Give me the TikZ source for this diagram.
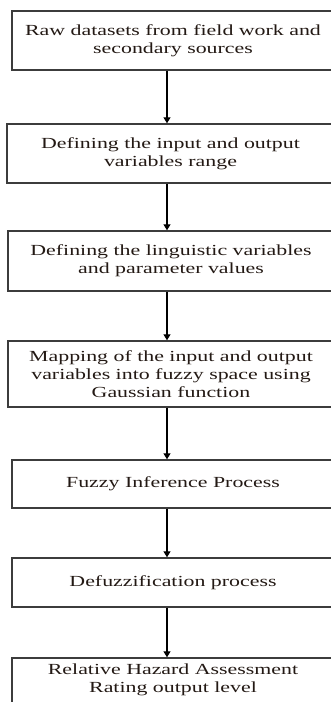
\documentclass[tikz,border=0pt]{standalone}
\usepackage{fontspec}
\setmainfont[FakeStretch=1.42]{Liberation Serif}
\usepackage{tikz}
\usetikzlibrary{arrows.meta,positioning,calc}
\definecolor{BoxLine}{RGB}{60, 60, 60}
\definecolor{FlowText}{RGB}{35, 25, 20}

\tikzset{
  stage/.style={draw=BoxLine, line width=1.4pt, align=center, text=FlowText,
    font=\fontsize{15.4}{18}\selectfont, inner sep=4pt},
  flow/.style={line width=1.2pt, -{Triangle[width=7pt,length=6pt]}}
}

\begin{document}
\begin{tikzpicture}[x=1pt, y=1pt]
  \useasboundingbox (0,0) rectangle (331,-702);
  \clip (0,0) rectangle (331,-702);
  \coordinate (spine) at (167,0);

  % stages of the fuzzy model
  \node[stage, minimum width=322pt, minimum height=59pt] (raw) at (173,-40.5)
    {Raw datasets from field work and\\secondary sources};
  \node[stage, minimum width=327pt, minimum height=59pt] (range) at (170.5,-153.5)
    {Defining the input and output\\variables range};
  \node[stage, minimum width=326pt, minimum height=60pt] (ling) at (171,-261)
    {Defining the linguistic variables\\and parameter values};
  \node[stage, minimum width=326pt, minimum height=66pt] (map) at (171,-374)
    {Mapping of the input and output\\variables into fuzzy space using\\Gaussian function};
  \node[stage, minimum width=322pt, minimum height=48pt] (infer) at (173,-484)
    {Fuzzy Inference Process};
  \node[stage, minimum width=322pt, minimum height=49pt] (defuzz) at (173,-582.5)
    {Defuzzification process};
  % last box runs past the bottom edge, text sits at its top
  \node[stage, minimum width=322pt, minimum height=62pt, text depth=22pt] (rating) at (173,-689)
    {Relative Hazard Assessment\\Rating output level};

  % arrows
  \draw[flow] (raw.south -| spine) -- (range.north -| spine);
  \draw[flow] (range.south -| spine) -- (ling.north -| spine);
  \draw[flow] (ling.south -| spine) -- (map.north -| spine);
  \draw[flow] (map.south -| spine) -- (infer.north -| spine);
  \draw[flow] (infer.south -| spine) -- (defuzz.north -| spine);
  \draw[flow] (defuzz.south -| spine) -- (rating.north -| spine);
\end{tikzpicture}
\end{document}
